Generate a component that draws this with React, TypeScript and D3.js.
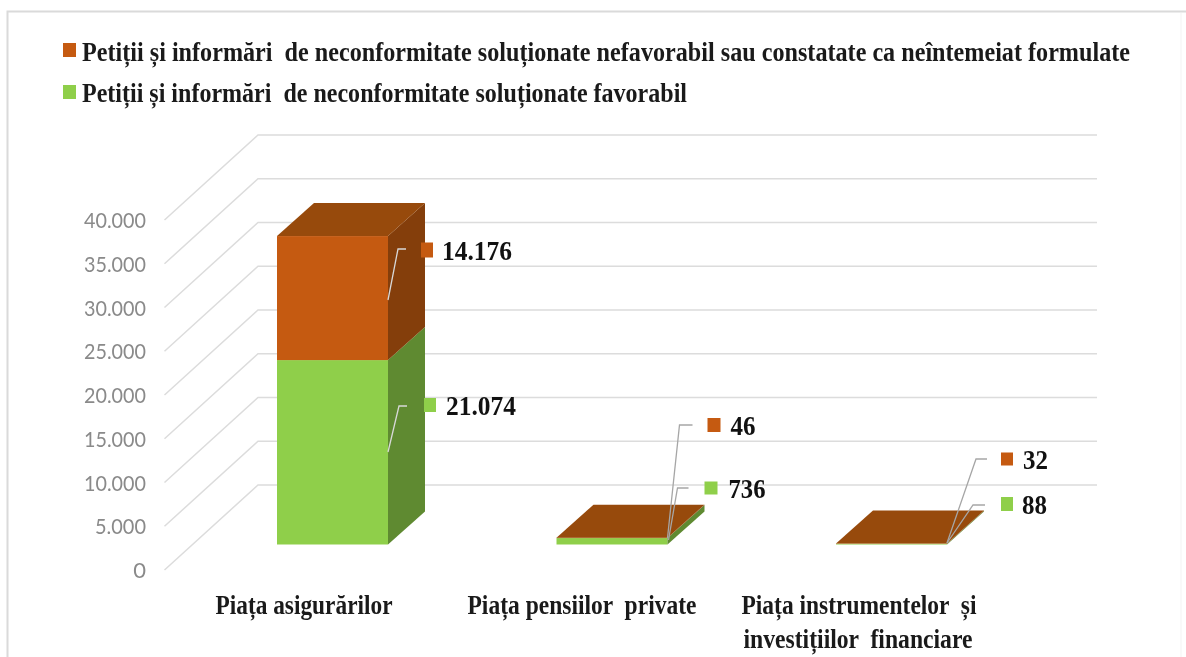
import React from "react";
import * as d3 from "d3";

const categories = ["Piața asigurărilor", "Piața pensiilor  private", "Piața instrumentelor  și|investițiilor  financiare"];
const favorabil = [21074, 736, 88];
const nefavorabil = [14176, 46, 32];
const valueLabels = [["21.074", "14.176"], ["736", "46"], ["88", "32"]];
const ticks = [0, 5000, 10000, 15000, 20000, 25000, 30000, 35000, 40000];
const legendLabels = [
  "Petiții și informări  de neconformitate soluționate nefavorabil sau constatate ca neîntemeiat formulate",
  "Petiții și informări  de neconformitate soluționate favorabil",
];

const C = {
  orange: "#C55A11", orangeTop: "#974A0C", orangeSide: "#843E0B",
  green: "#8FCF4A", greenSide: "#5F8A31", grid: "#DCDCDC", tick: "#8A8A8A", text: "#1A1A1A", frame: "#DADADA",
};
const SERIF = "'Liberation Serif', serif";

// Layout of the pseudo-3D frame
const BAR_W = 111, DX = 37, DY = 33;
const yFront = d3.scaleLinear().domain([0, 40000]).range([544.5, 194.5]);
const yWall = d3.scaleLinear().domain([0, 40000]).range([485, 135]);
const yAxis = d3.scaleLinear().domain([0, 40000]).range([570, 220]);
const xBar = d3.scalePoint<number>().domain([0, 1, 2]).range([277, 836]);
const fmt = (v: number) => (v === 0 ? "0" : d3.format(",")(v).replace(",", "."));

// Callouts, relative to bar right edge
const callouts = [
  [
    { a: [0, 452], e: [11, 406], end: 19, m: [36, 405, 12, 14], t: [58, 70] },
    { a: [0, 300], e: [10, 249], end: 18, m: [33, 250, 12, 15], t: [54, 70] },
  ],
  [
    { a: [1, 540], e: [10, 488], end: 21, m: [37, 488, 13, 13], t: [61, 37] },
    { a: [0, 538], e: [12, 425], end: 25, m: [40, 425, 13, 14], t: [63, 25] },
  ],
  [
    { a: [0, 543], e: [26, 505], end: 38, m: [54, 504, 12, 14], t: [75, 25] },
    { a: [0, 543], e: [29, 459], end: 40, m: [54, 459, 12, 13], t: [76, 25] },
  ],
];
const catLabelBoxes = [[[304, 177, 614]], [[582, 229, 614]], [[859, 235, 614], [858, 229, 648]]];

function Cuboid({ x, y0, y1, front, side, top }: { x: number; y0: number; y1: number; front: string; side: string; top?: string }) {
  const r = x + BAR_W;
  return (
    <g>
      <rect x={x} y={y1} width={BAR_W} height={y0 - y1} fill={front} />
      <polygon points={`${r},${y0} ${r + DX},${y0 - DY} ${r + DX},${y1 - DY} ${r},${y1}`} fill={side} />
      {top && <polygon points={`${x},${y1} ${x + DX},${y1 - DY} ${r + DX},${y1 - DY} ${r},${y1}`} fill={top} />}
    </g>
  );
}

export default function App() {
  return (
    <svg width={1186} height={657} style={{ position: "absolute", left: 0, top: 0, filter: "blur(0.5px)" }}>
      <rect width={1186} height={657} fill="#fff" />
      <path d="M7.5,657 V11.5 H1186" fill="none" stroke={C.frame} strokeWidth={2} />
      <path d="M1181,13 V657" fill="none" stroke="#F3F3F3" strokeWidth={1} />

      {legendLabels.map((t, i) => (
        <g key={i}>
          <rect x={63} y={43 + i * 42} width={13} height={14} fill={i === 0 ? C.orange : C.green} />
          <text x={82} y={61 + i * 41} fontFamily={SERIF} fontWeight={700} fontSize={27} fill={C.text}
            textLength={i === 0 ? 1048 : 605} lengthAdjust="spacingAndGlyphs" xmlSpace="preserve">{t}</text>
        </g>
      ))}

      {ticks.map((t) => (
        <g key={t}>
          <polyline points={`164.5,${yAxis(t)} 258,${yWall(t)} 1097,${yWall(t)}`} fill="none" stroke={C.grid} strokeWidth={1.5} />
          <text x={146} y={yAxis(t) + 8} textAnchor="end" fontFamily="Lato, sans-serif" fontWeight={400} fontSize={22} fill={C.tick}
            {...(t > 0 ? { textLength: t < 10000 ? 51 : 62, lengthAdjust: "spacingAndGlyphs" } : {})}>{fmt(t)}</text>
        </g>
      ))}

      {categories.map((_, i) => {
        const x = xBar(i)!;
        const yF = yFront(favorabil[i]);
        const yT = yFront(favorabil[i] + nefavorabil[i]);
        return (
          <g key={i}>
            <Cuboid x={x} y0={yFront(0)} y1={yF} front={C.green} side={C.greenSide} />
            <Cuboid x={x} y0={yF} y1={yT} front={C.orange} side={C.orangeSide} top={C.orangeTop} />
          </g>
        );
      })}

      {categories.map((_, i) => {
        const right = xBar(i)! + BAR_W;
        return callouts[i].map((c, s) => (
          <g key={`${i}-${s}`}>
            <polyline points={`${right + c.a[0]},${c.a[1]} ${right + c.e[0]},${c.e[1]} ${right + c.end},${c.e[1]}`}
              fill="none" stroke={i === 0 ? "#D8D8D8" : "#A6A6A6"} strokeWidth={1.3} />
            <rect x={right + c.m[0]} y={c.m[1] - c.m[3] / 2} width={c.m[2]} height={c.m[3]} fill={s === 0 ? C.green : C.orange} />
            <text x={right + c.t[0]} y={c.m[1] + 10} fontFamily={SERIF} fontWeight={700} fontSize={28} fill="#111"
              textLength={c.t[1]} lengthAdjust="spacingAndGlyphs">{valueLabels[i][s]}</text>
          </g>
        ));
      })}

      {categories.map((c, i) =>
        c.split("|").map((line, j) => (
          <text key={`${i}-${j}`} x={catLabelBoxes[i][j][0]} y={catLabelBoxes[i][j][2]} textAnchor="middle" fontFamily={SERIF} fontWeight={700}
            fontSize={27} fill={C.text} textLength={catLabelBoxes[i][j][1]} lengthAdjust="spacingAndGlyphs" xmlSpace="preserve">{line}</text>
        ))
      )}
    </svg>
  );
}
